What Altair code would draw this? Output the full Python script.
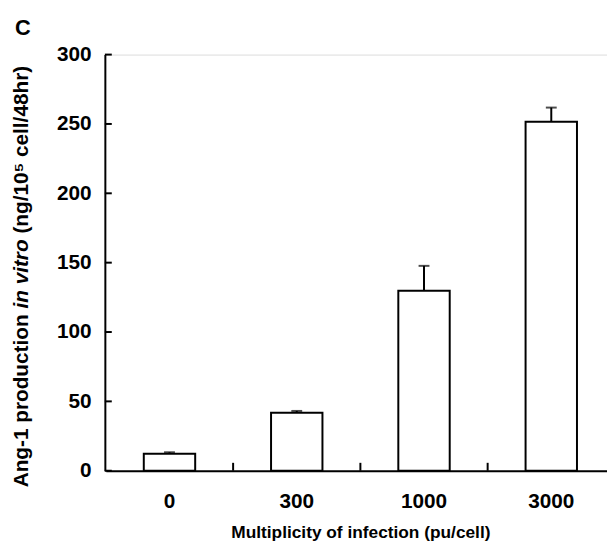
import altair as alt
import pandas as pd

categories = ["0", "300", "1000", "3000"]
values = [12.3, 41.8, 129.7, 251.6]
errors = [1.0, 1.3, 18.0, 10.2]
y_ticks = [0, 50, 100, 150, 200, 250, 300]
inner_x_ticks = ["0", "300", "1000"]
y_title_parts = ["Ang-1 production", "in vitro", "(ng/10⁵ cell/48hr)"]

df = pd.DataFrame({
    "moi": categories,
    "value": values,
    "upper": [v + e for v, e in zip(values, errors)],
})
df_yt = pd.DataFrame({"t": y_ticks})
df_xt = pd.DataFrame({"moi": inner_x_ticks})

FONT = "Liberation Sans"
W, H = 508, 421
TFS = 21  # y-title font size
# advance widths (em) of the title pieces in Arial/Liberation Sans Bold
SP = 0.278
EM1, EM2, EM3 = 8.333, 3.334, 7.947
TOTAL = EM1 + SP + EM2 + SP + EM3
CENTER = 226
Y0 = CENTER + TOTAL * TFS / 2

x_scale = alt.Scale(range=[1, 516], paddingInner=0, paddingOuter=0)

x_enc = alt.X(
    "moi:N",
    sort=categories,
    scale=x_scale,
    axis=alt.Axis(
        title="Multiplicity of infection (pu/cell)",
        labelAngle=0,
        labelFont=FONT, labelFontSize=21, labelFontWeight="bold", labelColor="black",
        ticks=False,
        domainWidth=2, domainColor="black",
        labelPadding=20,
        titleFont=FONT, titleFontSize=17.5, titleFontWeight="bold", titleColor="black",
        titlePadding=13,
    ),
)

y_enc = alt.Y(
    "value:Q",
    scale=alt.Scale(domain=[0, 300]),
    axis=alt.Axis(
        title=None,
        values=y_ticks,
        grid=False,
        labelFont=FONT, labelFontSize=21, labelFontWeight="bold", labelColor="black",
        ticks=False,
        domainWidth=2, domainColor="black",
        labelPadding=14,
    ),
)

bars = alt.Chart(df).mark_bar(
    size=52, fill="white", stroke="black", strokeWidth=2
).encode(x=x_enc, y=y_enc)

err = alt.Chart(df).mark_rule(color="black", strokeWidth=2).encode(
    x=alt.X("moi:N", sort=categories), y="value:Q", y2="upper:Q"
)

caps = alt.Chart(df).mark_tick(
    color="black", size=11, thickness=2, orient="horizontal"
).encode(x=alt.X("moi:N", sort=categories), y="upper:Q")

yticks = alt.Chart(df_yt).mark_rule(color="black", strokeWidth=2).encode(
    y="t:Q", x=alt.value(0), x2=alt.value(7)
)

xticks = alt.Chart(df_xt).mark_rule(color="black", strokeWidth=2).encode(
    x=alt.X("moi:N", sort=categories, bandPosition=1),
    y=alt.value(H), y2=alt.value(H - 8),
)


def title_piece(i, y, style):
    return alt.Chart(pd.DataFrame({"s": [y_title_parts[i]]})).mark_text(
        angle=270, align="left", baseline="alphabetic", font=FONT,
        fontSize=TFS, fontWeight="bold", fontStyle=style, color="black",
    ).encode(text="s:N", x=alt.value(-78), y=alt.value(y))


t1 = title_piece(0, Y0, "normal")
t2 = title_piece(1, Y0 - (EM1 + SP) * TFS, "italic")
t3 = title_piece(2, Y0 - (EM1 + SP + EM2 + SP) * TFS, "normal")

chart = alt.layer(bars, err, caps, yticks, xticks, t1, t2, t3).properties(
    width=W, height=H,
    title=alt.TitleParams(
        "C", anchor="start", frame="group", font=FONT, fontSize=22,
        fontWeight="bold", color="black", dx=-91, dy=0,
    ),
    autosize=alt.AutoSizeParams(type="none"),
    padding={"left": 98, "top": 44, "right": 0, "bottom": 72},
).configure_view(stroke=None).configure(background="white")

chart.save("out.html", embed_options={"renderer": "svg", "actions": False})
